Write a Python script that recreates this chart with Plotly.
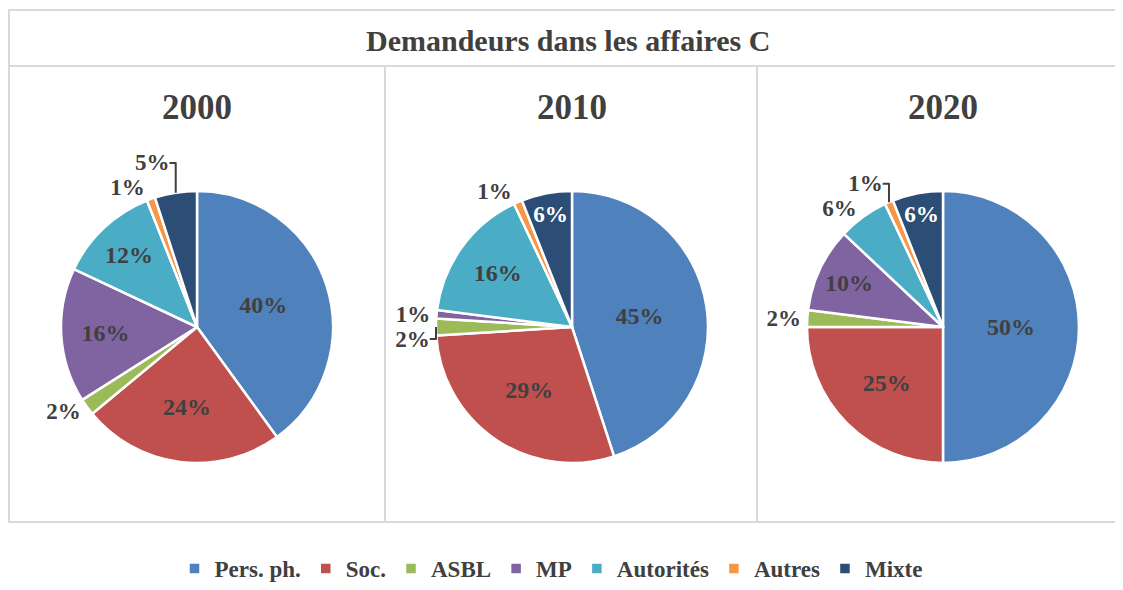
import plotly.graph_objects as go

categories = ["Pers. ph.", "Soc.", "ASBL", "MP", "Autorités", "Autres", "Mixte"]
years = ["2000", "2010", "2020"]
values_2000 = [40, 24, 2, 16, 12, 1, 5]
values_2010 = [45, 29, 2, 1, 16, 1, 6]
values_2020 = [50, 25, 2, 10, 6, 1, 6]
colors = ["#4F81BD", "#C0504D", "#9BBB59", "#8064A2", "#4BACC6", "#F79646", "#2C4D75"]

textpos = {
    "2000": ["inside", "inside", "outside", "inside", "inside", "outside", "outside"],
    "2010": ["inside", "inside", "outside", "outside", "inside", "outside", "inside"],
    "2020": ["inside", "inside", "outside", "inside", "outside", "outside", "inside"],
}
inside_col = {
    "2000": ["#404040"] * 7,
    "2010": ["#404040"] * 6 + ["#FFFFFF"],
    "2020": ["#404040"] * 6 + ["#FFFFFF"],
}

# page offset (default body margin of the html page)
OFF = 8
W, H = 1123 - OFF, 590 - OFF
FONT = "Liberation Serif, Times New Roman, serif"
TXT = "#404040"
GRID = "#D9D9D9"

def px(x):
    return (x - OFF) / W

def py(y):
    return 1 - (y - OFF) / H

fig = go.Figure()
centers = [197, 572, 943]
R = 136
cy = 327
for i, (yr, vals) in enumerate(zip(years, [values_2000, values_2010, values_2020])):
    cx = centers[i]
    fig.add_trace(go.Pie(
        labels=categories,
        values=vals,
        text=[f"{v}%" for v in vals],
        textinfo="text",
        sort=False,
        direction="clockwise",
        rotation=0,
        marker=dict(colors=colors, line=dict(color="white", width=2.5)),
        textposition=textpos[yr],
        insidetextorientation="horizontal",
        insidetextfont=dict(family=FONT, size=24, color=inside_col[yr], weight="bold"),
        outsidetextfont=dict(family=FONT, size=23, color=TXT, weight="bold"),
        textfont=dict(family=FONT, size=24, weight="bold"),
        domain=dict(x=[px(cx - R), px(cx + R)], y=[py(cy + R), py(cy - R)]),
        showlegend=(i == 0),
        hoverinfo="label+percent",
    ))
    fig.add_annotation(text=f"<b>{yr}</b>", x=px(cx), y=py(107), xref="paper", yref="paper",
                       showarrow=False, font=dict(family=FONT, size=35, color=TXT),
                       xanchor="center", yanchor="middle")

fig.add_annotation(text="<b>Demandeurs dans les affaires C</b>", x=px(568), y=py(40),
                   xref="paper", yref="paper", showarrow=False,
                   font=dict(family=FONT, size=30, color=TXT), xanchor="center", yanchor="middle")

shapes = []
line = dict(color=GRID, width=2)
shapes.append(dict(type="rect", xref="paper", yref="paper", x0=px(9), x1=px(1130),
                   y0=py(522), y1=py(10), line=line))
shapes.append(dict(type="line", xref="paper", yref="paper", x0=px(9), x1=px(1130),
                   y0=py(66), y1=py(66), line=line))
for xd in [385, 757]:
    shapes.append(dict(type="line", xref="paper", yref="paper", x0=px(xd), x1=px(xd),
                       y0=py(522), y1=py(66), line=line))

fig.update_layout(
    width=W, height=H,
    margin=dict(l=0, r=0, t=0, b=0, autoexpand=False),
    paper_bgcolor="white", plot_bgcolor="white",
    shapes=shapes,
    legend=dict(orientation="h", x=px(551), xanchor="center", y=0, yanchor="bottom",
                font=dict(family=FONT, size=23, color=TXT, weight="bold"), traceorder="normal",
                itemwidth=30),
)
fig.write_html("out.html")
